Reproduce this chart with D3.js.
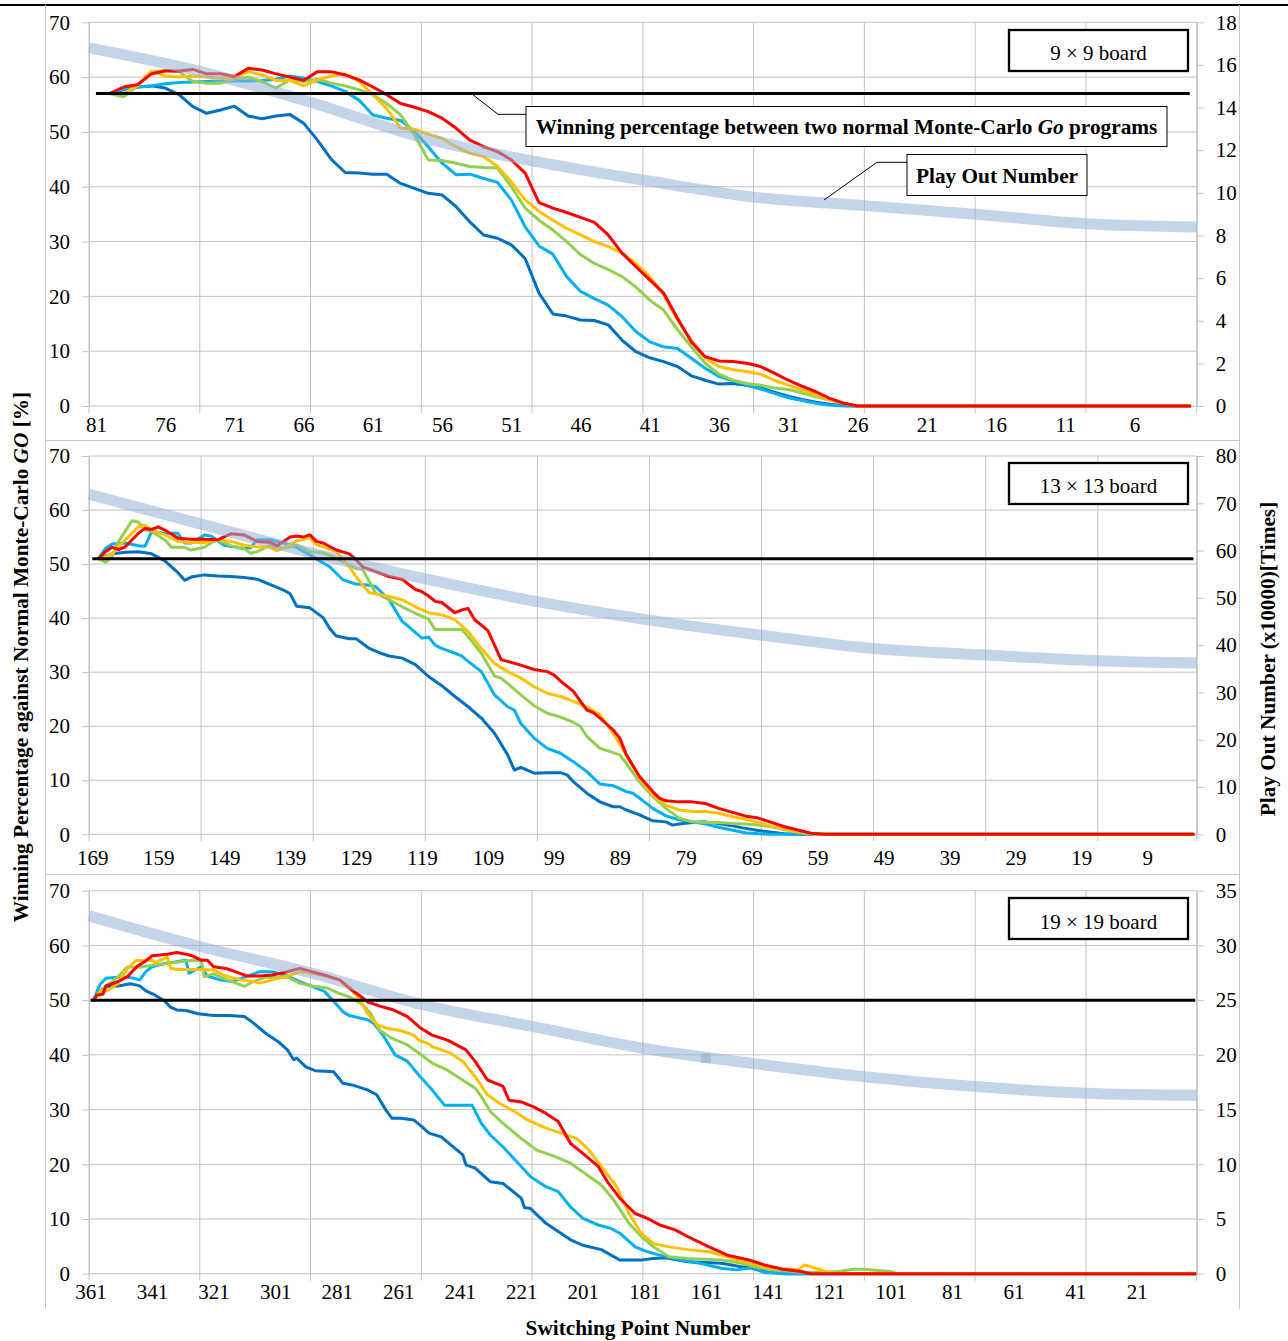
<!DOCTYPE html>
<html>
<head>
<meta charset="utf-8">
<script src="https://cdn.jsdelivr.net/npm/d3@7"></script>
<style>
  body { margin: 0; background: #fff; }
  svg text { font-family: "Liberation Serif", "Times New Roman", serif; }
</style>
</head>
<body>
<svg id="chart" width="1288" height="1341"></svg>
<script>
// ---- data ----
// 9 x 9 board: switching points 81..2, lines start at 80
const topSwitch = [80,79,78,77,76,75,74,73,72,71,70,69,68,67,66,65,64,63,62,61,60,59,58,57,56,55,54,53,52,51,50,49,48,47,46,45,44,43,42,41,40,39,38,37,36,35,34,33,32,31,30,29,28,27,26,2];
const topDarkBlue = [57,57.7,58.2,58.4,58.0,56.8,54.6,53.4,54.0,54.7,52.9,52.4,52.9,53.2,51.6,48.5,45.0,42.6,42.5,42.3,42.3,40.6,39.7,38.8,38.5,36.4,33.6,31.2,30.6,29.4,26.9,20.6,16.8,16.4,15.7,15.6,14.8,12.0,9.9,8.8,8.1,7.2,5.5,4.7,4.0,4.1,3.8,3.3,2.5,1.8,1.2,0.7,0.3,0.1,0,0];
const topLightBlue = [57,57.8,58.2,58.4,58.8,59.0,59.1,59.2,59.2,59.3,59.3,59.4,59.6,60.2,59.8,59.2,58.4,57.4,55.8,53.1,52.5,52.1,50.1,47.3,44.3,42.2,42.3,41.5,40.8,37.6,32.7,29.2,27.7,23.6,20.9,19.6,18.4,16.3,13.6,11.7,10.8,10.5,8.7,6.9,5.4,4.6,3.8,3.1,2.3,1.5,1.0,0.5,0.2,0,0,0];
const topGreen = [57,56.4,58.4,61,61.2,61,59.2,58.9,58.9,59.6,60,59.2,58,59.5,59.2,59.6,58.9,58.4,57.7,56.8,55.2,53.1,49.5,44.9,44.8,44.3,43.7,43.5,43.4,40,36.1,33.9,32.1,30,27.6,26,24.9,23.6,21.7,19.3,17.5,13.9,10.8,7.8,5.8,4.7,4.1,3.8,3.3,3.0,2.4,1.7,1.1,0.5,0,0];
const topOrange = [57,57,58.4,61.1,60.2,60,60.2,60,59.8,59.8,61,60.4,59.4,59.4,58.4,59.5,60.2,60.6,59.2,56.8,54.3,50.7,50.5,49.6,48.8,47.3,46.1,45.5,43.7,40.9,37.6,35.5,33.9,32.4,31.2,30,29.1,27.9,26,23.6,20.3,15.7,12,8.7,7.2,6.6,6.3,5.8,4.7,3.8,2.9,2.0,1.1,0.5,0,0];
const topRed = [57,58.2,58.6,60.6,61.1,61.1,61.4,60.6,60.6,60.1,61.6,61.3,60.6,60,59.4,61,61,60.4,59.5,58.2,56.8,55.2,54.5,53.7,52.5,50.7,48.5,47.3,46.4,44.9,42.5,37.1,36.1,35.3,34.4,33.5,31.2,27.9,25.4,23,20.6,16,11.7,9,8.2,8.1,7.8,7.2,6,4.7,3.6,2.6,1.4,0.5,0,0];
const topPlayOut = [[81.5,16.8],[73.5,15.7],[65.5,14.25],[57.5,12.6],[49.5,11.5],[41.5,10.6],[33.5,9.8],[25.5,9.4],[17.5,9.0],[9.5,8.55],[1.5,8.4]];

// 13 x 13 board: [switching point, winning %]
const midDarkBlue = [[168,51.1],[166,51.9],[164,52.2],[162,52.3],[160,51.9],[158,50.6],[156,48.4],[155,47.0],[154,47.6],[152,48.0],[150,47.8],[148,47.7],[146,47.5],[144,47.2],[142,46.2],[140,45.2],[139,44.5],[138,42.2],[136,41.9],[134,40.1],[133,38.1],[132,36.7],[130,36.2],[129,36.2],[128,35.3],[127,34.4],[125,33.4],[124,33.0],[122,32.6],[120,31.4],[119,30.3],[118,29.2],[116,27.5],[114,25.5],[112,23.6],[110,21.5],[108,18.7],[106,14.7],[105,11.9],[104,12.4],[102,11.3],[100,11.4],[98,11.4],[97,11.0],[96,9.7],[94,7.6],[92,6.0],[90,5.1],[89,5.1],[88,4.5],[86,3.6],[84,2.5],[82,2.3],[81,1.7],[80,1.9],[78,2.2],[76,2.3],[74,2.0],[72,1.6],[70,1.1],[68,0.7],[66,0.4],[64,0.1],[62,0],[2,0]];
const midLightBlue = [[168,51.1],[167,52.9],[166,53.7],[164,53.9],[162,53.4],[161,53.3],[160,56.0],[158,55.7],[156,55.7],[155,53.9],[154,53.9],[152,55.4],[151,55.2],[149,53.5],[146,52.9],[145,53.0],[144,54.5],[142,54.5],[140,53.9],[138,53.1],[136,51.7],[134,50.2],[133,49.5],[131,47.1],[129,46.3],[127,46.1],[126,45.8],[124,43.4],[122,39.4],[121,38.4],[119,36.3],[118,36.5],[117,35.0],[116,34.4],[114,33.5],[113,33.0],[112,32.0],[110,30.1],[108,25.8],[106,23.6],[105,23.0],[104,20.5],[102,17.8],[100,15.9],[98,15.0],[96,13.4],[94,11.6],[92,9.3],[90,9.0],[88,7.9],[87,7.6],[86,6.7],[84,4.8],[82,3.4],[80,2.7],[78,2.3],[76,1.9],[74,1.3],[72,0.8],[70,0.3],[68,0.1],[66,0],[2,0]];
const midGreen = [[168,51.1],[167,50.3],[166,51.4],[165,54.2],[163,58.0],[162,57.8],[161,56.3],[160,56.0],[158,54.5],[157,53.1],[155,53.1],[154,52.6],[152,53.1],[151,53.9],[150,54.5],[148,53.4],[146,52.9],[145,52.0],[144,52.3],[142,53.5],[140,52.9],[138,53.5],[136,52.3],[134,52.1],[132,51.1],[130,49.8],[129,49.2],[128,49.0],[126,44.6],[124,43.4],[122,42.1],[120,40.9],[118,39.8],[117,37.9],[116,37.9],[114,37.9],[113,37.9],[112,36.6],[110,33.5],[108,29.3],[107,28.9],[106,27.9],[104,25.8],[102,23.8],[100,22.4],[98,21.7],[96,20.7],[95,20.0],[94,18.1],[92,15.9],[90,15.1],[89,14.7],[88,13.1],[86,9.7],[84,7.0],[82,4.8],[80,3.0],[78,2.3],[76,2.2],[74,2.2],[72,2.0],[70,1.9],[68,1.7],[66,1.4],[64,0.9],[62,0.5],[60,0.1],[58,0],[2,0]];
const midOrange = [[168,50.9],[166,51.9],[164,54.5],[162,56.9],[161,57.2],[160,56.3],[158,55.4],[156,54.2],[154,54.0],[152,54.0],[150,54.5],[148,54.2],[146,53.5],[144,53.2],[142,53.1],[141,52.5],[140,52.9],[138,54.3],[136,54.8],[135,53.6],[134,53.2],[132,52.3],[130,49.5],[129,47.7],[128,46.1],[127,44.7],[125,44.3],[124,44.0],[122,43.4],[120,42.1],[118,41.0],[116,40.6],[114,39.7],[112,37.5],[110,34.4],[108,31.6],[106,30.1],[104,28.9],[102,27.3],[100,26.1],[98,25.5],[96,24.6],[94,23.6],[92,22.1],[90,18.7],[88,14.7],[86,10.4],[84,7.3],[82,5.4],[80,4.5],[78,4.2],[76,4.2],[74,3.9],[72,3.3],[70,2.8],[68,2.2],[66,1.5],[64,0.9],[62,0.4],[60,0.1],[58,0],[2,0]];
const midRed = [[168,51.1],[167,52.3],[166,53.1],[165,52.7],[164,53.2],[162,55.7],[161,56.6],[160,56.4],[159,56.9],[158,56.3],[156,54.8],[154,54.6],[152,54.6],[150,54.5],[148,55.6],[146,55.4],[144,54.2],[142,54.0],[141,53.4],[140,54.2],[139,55.0],[138,55.2],[137,55.0],[136,55.4],[135,54.2],[134,53.9],[132,52.6],[130,51.9],[129,50.8],[128,49.5],[126,48.6],[124,47.7],[122,47.2],[120,45.3],[119,44.9],[118,44.1],[117,43.1],[116,42.9],[114,41.0],[113,41.5],[112,41.8],[111,39.7],[110,38.7],[109,37.7],[108,35.0],[107,32.3],[106,32.0],[104,31.3],[102,30.5],[100,30.1],[99,29.5],[98,28.4],[96,26.4],[94,23.0],[93,22.5],[92,21.5],[90,19.3],[89,17.8],[88,14.7],[86,10.7],[84,7.9],[83,6.7],[82,6.2],[80,6.0],[78,6.0],[76,5.7],[74,4.8],[72,4.1],[70,3.4],[68,3.0],[66,2.2],[64,1.4],[62,0.8],[60,0.2],[58,0],[2,0]];
const midPlayOut = [[169.5,71.9],[152.5,65.6],[135.5,59.4],[118.5,54.0],[101.5,49.2],[84.5,45.3],[67.5,42.1],[50.5,39.3],[33.5,37.9],[16.5,36.7],[1.5,36.2]];

// 19 x 19 board
const botDarkBlue = [[360,50],[358,51.6],[356,52.5],[352,52.6],[348,53.0],[345,52.6],[343,51.7],[340,50.9],[337,49.9],[335,48.7],[333,48.2],[330,48.1],[326,47.5],[321,47.2],[316,47.2],[311,47.0],[308,45.8],[304,43.9],[300,42.4],[297,40.9],[295,39.1],[294,39.4],[291,37.8],[288,37.1],[282,36.9],[279,34.8],[276,34.5],[271,33.6],[268,32.7],[265,29.9],[263,28.4],[260,28.4],[256,28.1],[254,27.2],[251,25.7],[247,25.0],[240,21.7],[239,19.9],[236,19.3],[231,16.8],[227,16.5],[221,13.8],[220,12.1],[218,11.9],[213,9.2],[205,6.2],[201,5.2],[195,4.4],[189,2.5],[182,2.5],[178,2.8],[174,2.9],[167,2.2],[156,1.9],[150,1.3],[146,1.0],[142,0.4],[135,0],[2,0]];
const botLightBlue = [[360,50],[358,52.8],[356,54.0],[352,54.2],[349,54.2],[347,54.0],[345,53.7],[343,55.2],[341,56.1],[337,56.7],[333,57.0],[330,57.3],[329,54.9],[325,56.1],[323,54.4],[319,53.7],[315,53.4],[310,54.4],[306,55.2],[302,55.2],[297,54.4],[293,53.4],[289,52.5],[285,51.6],[282,49.8],[279,47.9],[277,47.2],[271,46.4],[269,45.8],[266,43.6],[262,40.0],[258,38.8],[254,36.1],[250,33.6],[246,30.8],[243,30.8],[237,30.8],[234,27.5],[231,25.3],[227,23.2],[222,20.2],[218,17.7],[213,15.9],[209,15.0],[205,12.2],[201,10.1],[196,8.9],[192,8.3],[189,7.4],[184,4.9],[180,4.0],[176,3.4],[169,2.5],[163,1.9],[156,1.0],[151,0.7],[146,1.1],[142,0.2],[135,0],[2,0]];
const botGreen = [[360,50],[358,51.6],[356,52.5],[352,54.3],[349,56.1],[345,56.0],[341,56.4],[336,56.7],[332,57.0],[328,57.3],[325,57.2],[324,54.3],[321,54.8],[317,53.8],[315,53.4],[311,52.5],[308,53.4],[304,54.2],[297,54.2],[293,53.1],[289,52.6],[284,52.2],[281,51.4],[277,50.6],[273,49.4],[270,47.6],[267,44.5],[263,43.0],[258,41.8],[254,40.2],[250,38.5],[245,37.2],[241,35.7],[236,33.9],[234,32.4],[231,29.6],[227,27.5],[221,24.7],[216,22.6],[210,21.4],[205,20.2],[201,18.6],[195,16.2],[191,13.5],[186,9.2],[182,6.8],[178,4.9],[173,3.1],[167,2.8],[156,2.5],[150,2.0],[146,1.4],[140,0.7],[129,0.2],[118,0.4],[113,0.8],[110,0.8],[101,0.4],[99,0],[2,0]];
const botOrange = [[360,50],[358,51.4],[355,51.9],[352,53.1],[349,55.8],[346,57.3],[343,57.2],[341,57.3],[340,56.9],[336,57.8],[335,55.8],[332,55.6],[325,55.6],[321,55.5],[317,54.4],[312,53.7],[308,53.4],[306,53.1],[302,53.7],[297,54.4],[293,55.2],[289,54.9],[284,54.3],[280,53.7],[277,52.5],[273,49.7],[271,47.6],[268,45.5],[265,44.9],[260,44.4],[256,43.6],[254,42.6],[251,42.0],[250,41.5],[244,40.3],[240,38.8],[236,36.0],[232,32.7],[228,31.1],[223,29.6],[219,28.1],[213,26.6],[208,25.7],[203,24.7],[199,22.6],[195,19.6],[190,15.9],[186,11.0],[182,7.4],[178,5.5],[173,4.9],[167,4.4],[160,4.0],[154,3.1],[149,2.2],[146,1.8],[140,1.0],[131,0.7],[129,1.6],[127,1.3],[122,0.4],[118,0],[2,0]];
const botRed = [[360,50],[359,50.9],[357,51.1],[356,52.6],[352,53.4],[349,54.3],[346,56.1],[343,57.2],[341,58.1],[336,58.4],[333,58.7],[330,58.4],[328,58.1],[325,57.3],[323,57.3],[321,56.1],[317,55.8],[314,55.2],[310,54.4],[306,54.4],[302,54.6],[297,55.2],[293,55.8],[289,55.2],[284,54.4],[280,53.7],[277,52.2],[273,50.6],[271,49.7],[267,48.9],[263,48.3],[258,47.0],[254,45.0],[250,43.6],[245,42.7],[243,42.1],[239,40.9],[236,38.8],[232,35.4],[227,34.3],[225,31.7],[221,31.4],[217,30.5],[213,29.3],[209,27.8],[205,23.8],[201,22.0],[196,19.6],[193,16.8],[189,13.8],[184,11.0],[180,10.1],[176,8.9],[171,8.0],[167,6.8],[160,4.9],[154,3.4],[147,2.5],[142,1.6],[136,0.8],[130,0.4],[127,0],[2,0]];
const botPlayOut = [[361.5,32.7],[325.5,29.9],[289.5,27.5],[253.5,24.6],[217.5,22.6],[181.5,20.6],[145.5,19.2],[109.5,18.0],[73.5,17.1],[37.5,16.5],[1.5,16.3]];
const botPlayOutMarker = [[161,19.7]];

// baseline: winning percentage between two normal programs
const baselineWin = [57, 51, 50];

// axis tick labels
const leftTicks = [0,10,20,30,40,50,60,70];
const topRightTicks = [0,2,4,6,8,10,12,14,16,18];
const midRightTicks = [0,10,20,30,40,50,60,70,80];
const botRightTicks = [0,5,10,15,20,25,30,35];
const topXLabels = [81,76,71,66,61,56,51,46,41,36,31,26,21,16,11,6];
const midXLabels = [169,159,149,139,129,119,109,99,89,79,69,59,49,39,29,19,9];
const botXLabels = [361,341,321,301,281,261,241,221,201,181,161,141,121,101,81,61,41,21];

const boardNames = ["9 \u00d7 9 board", "13 \u00d7 13 board", "19 \u00d7 19 board"];
const seriesColors = ["#0070C0", "#00B0F0", "#92D050", "#FFC000", "#FF0000"];

const panels = [
  { first: 81, gridEvery: 8, rightMax: 18, rightTicks: topRightTicks, xLabels: topXLabels,
    series: [topDarkBlue, topLightBlue, topGreen, topOrange, topRed].map(v => d3.zip(topSwitch, v)),
    playOut: topPlayOut, marker: [], yTop: 22.3, yBot: 406, labelPad: 11, boxY: 30, boxTextY: 60 },
  { first: 169, gridEvery: 17, rightMax: 80, rightTicks: midRightTicks, xLabels: midXLabels,
    series: [midDarkBlue, midLightBlue, midGreen, midOrange, midRed],
    playOut: midPlayOut, marker: [], yTop: 456, yBot: 834.3, labelPad: 16, boxY: 463, boxTextY: 493 },
  { first: 361, gridEvery: 36, rightMax: 35, rightTicks: botRightTicks, xLabels: botXLabels,
    series: [botDarkBlue, botLightBlue, botGreen, botOrange, botRed],
    playOut: botPlayOut, marker: botPlayOutMarker, yTop: 890.7, yBot: 1273.7, labelPad: 10, boxY: 898, boxTextY: 929 }
];

// ---- drawing ----
const svg = d3.select("#chart");
const X0 = 89, X1 = 1196.7;
const gridColor = "#c3c3c3";
const FONT = '"Liberation Serif", "Times New Roman", serif';
const TICK_SIZE = 21, TITLE_SIZE = 21.3;

// outer frame
svg.append("line").attr("x1", 0).attr("x2", 1288).attr("y1", 5).attr("y2", 5)
  .attr("stroke", "#000").attr("stroke-width", 2.2);
svg.append("line").attr("x1", 45.5).attr("x2", 45.5).attr("y1", 5).attr("y2", 1309)
  .attr("stroke", "#c8c8c8");
svg.append("line").attr("x1", 1239.5).attr("x2", 1239.5).attr("y1", 5).attr("y2", 1309)
  .attr("stroke", "#c8c8c8");
[440.5, 874.5].forEach(y => {
  svg.append("line").attr("x1", 45.5).attr("x2", 1239.5).attr("y1", y).attr("y2", y)
    .attr("stroke", "#c8c8c8");
});

panels.forEach((p, pi) => {
  const g = svg.append("g");
  const x = d3.scaleLinear().domain([p.first + 0.5, 1.5]).range([X0, X1]);
  const yL = d3.scaleLinear().domain([0, 70]).range([p.yBot, p.yTop]);
  const yR = d3.scaleLinear().domain([0, p.rightMax]).range([p.yBot, p.yTop]);

  // horizontal grid
  g.selectAll(".hgrid").data(leftTicks).enter().append("line")
    .attr("x1", X0).attr("x2", X1)
    .attr("y1", d => yL(d)).attr("y2", d => yL(d))
    .attr("stroke", gridColor).attr("stroke-width", 1);

  // vertical grid with ticks below axis
  const gridPos = d3.range(p.first + 0.5, 1.5, -p.gridEvery).concat([1.5]);
  g.selectAll(".vgrid").data(gridPos).enter().append("line")
    .attr("x1", d => x(d)).attr("x2", d => x(d))
    .attr("y1", p.yTop).attr("y2", p.yBot + 7)
    .attr("stroke", gridColor).attr("stroke-width", 1);

  // left axis
  const la = g.append("g").attr("transform", `translate(${X0},0)`)
    .call(d3.axisLeft(yL).tickValues(leftTicks).tickSize(7).tickSizeOuter(0).tickPadding(12));
  // right axis
  const ra = g.append("g").attr("transform", `translate(${X1},0)`)
    .call(d3.axisRight(yR).tickValues(p.rightTicks).tickSize(7).tickSizeOuter(0).tickPadding(12));
  // bottom labels
  const ba = g.append("g").attr("transform", `translate(0,${p.yBot})`)
    .call(d3.axisBottom(x).tickValues(p.xLabels).tickSize(0).tickPadding(p.labelPad).tickFormat(d3.format("d")));
  ba.select(".domain").remove();
  [la, ra, ba].forEach(a => {
    a.attr("font-family", FONT).attr("font-size", TICK_SIZE).attr("color", "#000");
    a.selectAll("line").attr("stroke", gridColor);
    a.select(".domain").attr("stroke", gridColor);
  });

  // winning percentage series
  const line = d3.line().x(d => x(d[0])).y(d => yL(d[1]));
  p.series.forEach((s, i) => {
    g.append("path").datum(s).attr("d", line)
      .attr("fill", "none").attr("stroke", seriesColors[i]).attr("stroke-width", 3)
      .attr("stroke-linejoin", "round").attr("stroke-linecap", "round");
  });

  // play out number band (secondary axis)
  const band = d3.line().x(d => x(d[0])).y(d => yR(d[1])).curve(d3.curveMonotoneX);
  g.append("path").datum(p.playOut).attr("d", band)
    .attr("fill", "none").attr("stroke", "#95B3D7").attr("stroke-width", 11)
    .attr("stroke-opacity", 0.55);
  g.selectAll(".mk").data(p.marker).enter().append("rect")
    .attr("x", d => x(d[0]) - 5).attr("y", d => yR(d[1]) - 5)
    .attr("width", 10).attr("height", 10)
    .attr("fill", "#95B3D7").attr("opacity", 0.6);

  // baseline
  g.append("path").datum([[p.first, baselineWin[pi]], [2, baselineWin[pi]]]).attr("d", line)
    .attr("stroke", "#000").attr("stroke-width", 3);

  // board label
  g.append("rect").attr("x", 1009).attr("y", p.boxY).attr("width", 179).attr("height", 41)
    .attr("fill", "#fff").attr("stroke", "#000").attr("stroke-width", 2.3);
  g.append("text").attr("x", 1098.5).attr("y", p.boxTextY).attr("text-anchor", "middle")
    .attr("font-size", TICK_SIZE).text(boardNames[pi]);
});

// annotations in the top panel
const ann = svg.append("g");
ann.append("path").attr("d", "M472,94 L498,114.3 L526,114.3")
  .attr("fill", "none").attr("stroke", "#000").attr("stroke-width", 1);
ann.append("rect").attr("x", 526).attr("y", 106.5).attr("width", 641).attr("height", 40)
  .attr("fill", "#fff").attr("stroke", "#000").attr("stroke-width", 1);
const t1 = ann.append("text").attr("x", 846.5).attr("y", 134).attr("text-anchor", "middle")
  .attr("font-size", TITLE_SIZE).attr("font-weight", "bold");
t1.append("tspan").text("Winning percentage between two normal Monte-Carlo ");
t1.append("tspan").attr("font-style", "italic").text("Go");
t1.append("tspan").text(" programs");

ann.append("path").attr("d", "M824,200 L877,162.3 L907,162.3")
  .attr("fill", "none").attr("stroke", "#000").attr("stroke-width", 1);
ann.append("rect").attr("x", 907).attr("y", 154.5).attr("width", 180).attr("height", 41)
  .attr("fill", "#fff").attr("stroke", "#000").attr("stroke-width", 1);
ann.append("text").attr("x", 997).attr("y", 183).attr("text-anchor", "middle")
  .attr("font-size", TITLE_SIZE).attr("font-weight", "bold").text("Play Out Number");

// axis titles
const lt = svg.append("text").attr("transform", "translate(28,657) rotate(-90)")
  .attr("text-anchor", "middle").attr("font-size", TITLE_SIZE).attr("font-weight", "bold");
lt.append("tspan").text("Winning Percentage against Normal Monte-Carlo ");
lt.append("tspan").attr("font-style", "italic").text("GO");
lt.append("tspan").text(" [%]");

svg.append("text").attr("transform", "translate(1275,659) rotate(-90)")
  .attr("text-anchor", "middle").attr("font-size", TITLE_SIZE).attr("font-weight", "bold")
  .text("Play Out Number (x10000)[Times]");

svg.append("text").attr("x", 638).attr("y", 1335).attr("text-anchor", "middle")
  .attr("font-size", TITLE_SIZE).attr("font-weight", "bold").text("Switching Point Number");
</script>
</body>
</html>
